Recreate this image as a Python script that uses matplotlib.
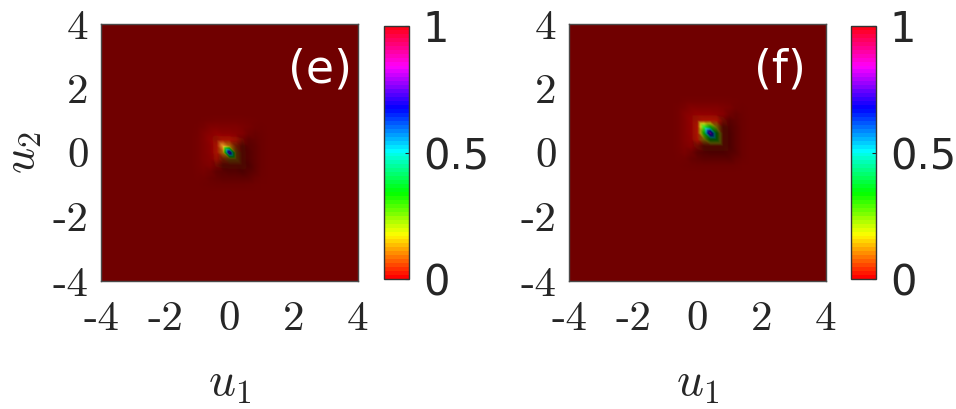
import numpy as np
import matplotlib
matplotlib.use("Agg")
import matplotlib.pyplot as plt
import matplotlib.tri as mtri
from matplotlib.colors import ListedColormap, Normalize
from matplotlib.cm import ScalarMappable

plt.rcParams["mathtext.fontset"] = "cm"

# ---------------- data ----------------
u_min, u_max, n_nodes = -4.0, 4.0, 41          # node grid for u1, u2
u_ticks = [-4, -2, 0, 2, 4]
u_tick_labels = ["-4", "-2", "0", "2", "4"]
cbar_ticks = [0, 0.5, 1]
cbar_tick_labels = ["0", "0.5", "1"]
panel_labels = ["(e)", "(f)"]

# peak node values (9x9 patch, rows from high u2 to low u2), centred at given node
peak_center_e = (0.0, 0.0)
peak_patch_e = [
    [0.001, 0.002, 0.003, 0.003, 0.003, 0.003, 0.003, 0.002, 0.001],
    [0.002, 0.008, 0.010, 0.010, 0.010, 0.010, 0.008, 0.006, 0.002],
    [0.003, 0.010, 0.025, 0.022, 0.022, 0.020, 0.018, 0.008, 0.003],
    [0.003, 0.010, 0.022, 0.120, 0.120, 0.050, 0.020, 0.010, 0.003],
    [0.003, 0.010, 0.022, 0.120, 0.800, 0.120, 0.022, 0.010, 0.003],
    [0.003, 0.010, 0.020, 0.050, 0.120, 0.120, 0.022, 0.010, 0.003],
    [0.003, 0.008, 0.018, 0.020, 0.022, 0.022, 0.025, 0.010, 0.003],
    [0.002, 0.006, 0.008, 0.010, 0.010, 0.010, 0.010, 0.008, 0.002],
    [0.001, 0.002, 0.003, 0.003, 0.003, 0.003, 0.003, 0.002, 0.001],
]
peak_center_f = (0.4, 0.6)
peak_patch_f = [
    [0.002, 0.003, 0.003, 0.003, 0.003, 0.003, 0.003, 0.002, 0.001],
    [0.003, 0.012, 0.012, 0.012, 0.012, 0.012, 0.010, 0.008, 0.002],
    [0.003, 0.012, 0.030, 0.028, 0.028, 0.026, 0.022, 0.010, 0.003],
    [0.003, 0.012, 0.028, 0.340, 0.340, 0.150, 0.026, 0.012, 0.003],
    [0.003, 0.012, 0.028, 0.340, 0.820, 0.340, 0.028, 0.012, 0.003],
    [0.003, 0.012, 0.026, 0.150, 0.340, 0.340, 0.028, 0.012, 0.003],
    [0.003, 0.010, 0.022, 0.026, 0.028, 0.028, 0.030, 0.012, 0.003],
    [0.002, 0.008, 0.010, 0.012, 0.012, 0.012, 0.012, 0.012, 0.003],
    [0.001, 0.002, 0.003, 0.003, 0.003, 0.003, 0.003, 0.003, 0.002],
]

# ---------------- helpers ----------------
u = np.linspace(u_min, u_max, n_nodes)
h = u[1] - u[0]
X, Y = np.meshgrid(u, u)

def build_field(center, patch):
    Z = np.zeros((n_nodes, n_nodes))
    p = np.array(patch)[::-1]          # rows now increasing u2
    r = p.shape[0] // 2
    ic = int(round((center[0] - u_min) / h))
    jc = int(round((center[1] - u_min) / h))
    Z[jc - r:jc + r + 1, ic - r:ic + r + 1] = p
    return Z

# triangulation with NW-SE diagonals
tris = []
for j in range(n_nodes - 1):
    for i in range(n_nodes - 1):
        bl = j * n_nodes + i
        br = bl + 1
        tl = bl + n_nodes
        tr = tl + 1
        tris.append([bl, br, tl])
        tris.append([br, tr, tl])
tri = mtri.Triangulation(X.ravel(), Y.ravel(), np.array(tris))

cmap = ListedColormap(plt.cm.hsv(np.linspace(0, 1, 64)))
norm = Normalize(0, 1)

# lighting
ka, kd, ks, sexp, zscale, gcap = 0.3, 0.6, 0.15, 10, 6.0, 0.8
sin_el = (0.44 - ka) / kd
cos_el = np.sqrt(1 - sin_el ** 2)
L = np.array([-cos_el / np.sqrt(2), cos_el / np.sqrt(2), sin_el])

npx = 520
pc = np.linspace(u_min, u_max, npx + 1)
pc = 0.5 * (pc[1:] + pc[:-1])
PX, PY = np.meshgrid(pc, pc)

def render(Z):
    dzdy, dzdx = np.gradient(Z, h)
    gx, gy = zscale * dzdx, zscale * dzdy
    gm = np.sqrt(gx ** 2 + gy ** 2)
    f = gcap / np.sqrt(gcap ** 2 + gm ** 2)
    gx, gy = gx * f, gy * f
    nx_, ny_, nz_ = -gx, -gy, np.ones_like(Z)
    nn = np.sqrt(nx_ ** 2 + ny_ ** 2 + nz_ ** 2)
    nx_, ny_, nz_ = nx_ / nn, ny_ / nn, nz_ / nn
    ndl = nx_ * L[0] + ny_ * L[1] + nz_ * L[2]
    diff = ka + kd * np.clip(ndl, 0, None)
    rz = 2 * ndl * nz_ - L[2]
    spec = ks * np.clip(rz, 0, None) ** sexp * (ndl > 0)
    vi = mtri.LinearTriInterpolator(tri, Z.ravel())(PX, PY).filled(0)
    di = mtri.LinearTriInterpolator(tri, diff.ravel())(PX, PY).filled(0.44)
    si = mtri.LinearTriInterpolator(tri, spec.ravel())(PX, PY).filled(0)
    rgb = cmap(norm(vi))[..., :3]
    rgb = rgb * di[..., None] + si[..., None]
    return np.clip(rgb, 0, 1)

fields = [build_field(peak_center_e, peak_patch_e), build_field(peak_center_f, peak_patch_f)]

# ---------------- figure ----------------
W, H = 956, 409
fig = plt.figure(figsize=(W / 100, H / 100), dpi=100)

ax_lefts = [101, 569]
cb_lefts = [384, 851]
label_xy = [(0.852, 0.821), (0.821, 0.821)]
tick_col = "#262626"
frame_col = "#4a4a4a"

for k in range(2):
    ax = fig.add_axes([ax_lefts[k] / W, (H - 281) / H, 257 / W, 257 / H])
    ax.imshow(render(fields[k]), extent=[u_min, u_max, u_min, u_max],
              origin="lower", interpolation="bilinear", aspect="auto")
    ax.set_xlim(u_min, u_max)
    ax.set_ylim(u_min, u_max)
    ax.set_xticks(u_ticks)
    ax.set_yticks(u_ticks)
    ax.set_xticklabels(u_tick_labels, fontfamily="cmr10", fontsize=31, color=tick_col)
    ax.set_yticklabels(u_tick_labels, fontfamily="cmr10", fontsize=31, color=tick_col)
    ax.tick_params(length=0)
    ax.tick_params(axis="x", pad=14)
    ax.tick_params(axis="y", pad=9)
    for s in ax.spines.values():
        s.set_color(frame_col)
        s.set_linewidth(1.0)
    ax.set_xlabel(r"$u_1$", fontsize=34, color=tick_col, va="center")
    ax.xaxis.set_label_coords(0.5, -0.397)
    if k == 0:
        ax.set_ylabel(r"$u_2$", fontsize=33, color=tick_col, va="center", ha="center")
        ax.yaxis.set_label_coords(-0.308, 0.498)
    ax.text(label_xy[k][0], label_xy[k][1], panel_labels[k], transform=ax.transAxes,
            ha="center", va="center", color="white", fontsize=33, fontfamily="DejaVu Sans")

    cax = fig.add_axes([cb_lefts[k] / W, (H - 279) / H, 25 / W, 253 / H])
    cb = fig.colorbar(ScalarMappable(norm=norm, cmap=cmap), cax=cax, ticks=cbar_ticks)
    cb.set_ticklabels(cbar_tick_labels)
    cb.ax.tick_params(direction="in", length=3, width=0.8, labelsize=30,
                      colors=tick_col, pad=10)
    for t in cb.ax.get_yticklabels():
        t.set_fontfamily("DejaVu Sans")
    cb.outline.set_edgecolor("#333333")
    cb.outline.set_linewidth(1.0)

fig.savefig("out.png", dpi=100)
